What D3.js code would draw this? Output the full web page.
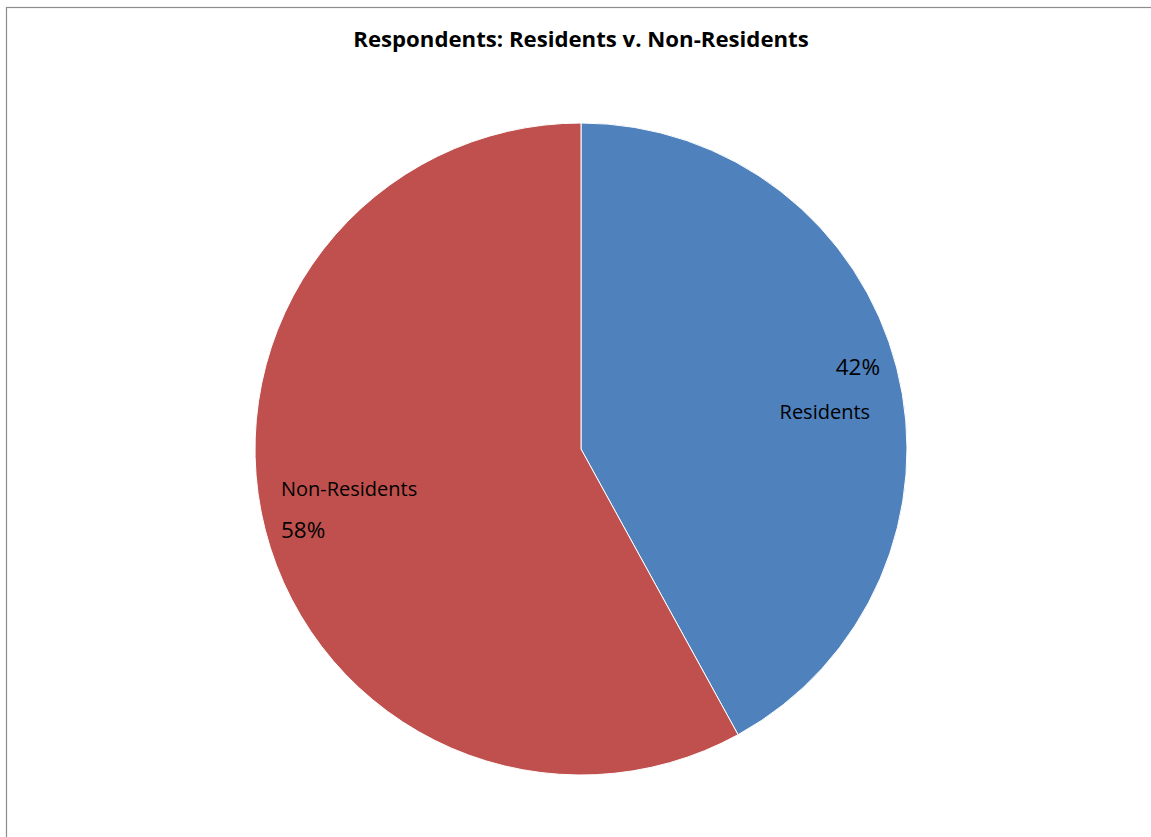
<!DOCTYPE html>
<html><head><meta charset="utf-8">
<script src="https://cdn.jsdelivr.net/npm/d3@7"></script>
<style>body{margin:0;background:#fff}svg{display:block}</style>
</head><body>
<script>
const categories = ["Residents", "Non-Residents"];
const values = [42, 58];
const colors = ["#4F81BD", "#C0504D"];
const title = "Respondents: Residents v. Non-Residents";

const W = 1151, H = 837;
const svg = d3.select("body").append("svg").attr("width", W).attr("height", H);
svg.append("rect").attr("x", 6.5).attr("y", 7.5).attr("width", W + 20).attr("height", H + 20)
  .attr("fill", "#fff").attr("stroke", "#8c8c8c").attr("stroke-width", 1.2);

const font = "'Open Sans', sans-serif";
svg.append("text").attr("x", 581).attr("y", 47).attr("text-anchor", "middle")
  .attr("font-family", font).attr("font-weight", "bold").attr("font-size", 22.2)
  .attr("fill", "#000").text(title);

const cx = 581, cy = 449, r = 326;
const pie = d3.pie().sort(null).value(d => d)(values);
const arc = d3.arc().innerRadius(0).outerRadius(r);
const g = svg.append("g").attr("transform", `translate(${cx},${cy})`);
g.selectAll("path").data(pie).join("path").attr("d", arc)
  .attr("fill", (d, i) => colors[i]).attr("stroke", "#fff").attr("stroke-width", 1);

const labelArc = d3.arc().innerRadius(252).outerRadius(252);
const lab = g.append("g").attr("font-family", font).attr("fill", "#000");
// Residents: percent above name, right-aligned
const c0 = labelArc.centroid(pie[0]);
lab.append("text").attr("x", c0[0] + 55).attr("y", c0[1] - 11).attr("text-anchor", "end")
  .attr("font-size", 22.5).text(values[0] + "%");
lab.append("text").attr("x", c0[0] + 45).attr("y", c0[1] + 33).attr("text-anchor", "end")
  .attr("font-size", 20).text(categories[0]);
// Non-Residents: name above percent, left-aligned
const c1 = labelArc.centroid(pie[1]);
lab.append("text").attr("x", c1[0] - 56).attr("y", c1[1] - 16).attr("text-anchor", "start")
  .attr("font-size", 20).text(categories[1]);
lab.append("text").attr("x", c1[0] - 56).attr("y", c1[1] + 26).attr("text-anchor", "start")
  .attr("font-size", 22.5).text(values[1] + "%");
</script>
</body></html>
